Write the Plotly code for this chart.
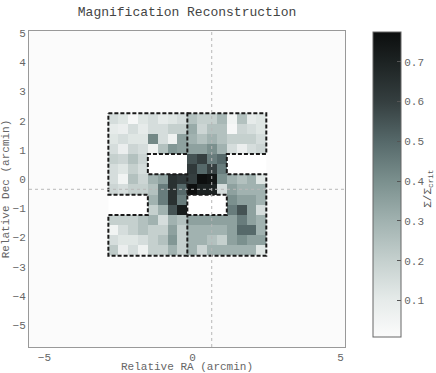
import numpy as np
import plotly.graph_objects as go

# surface density map, 14 rows (top -> bottom) x 16 cols (left -> right); None = no data
nan = None
sigma = [
    [0.15, 0.12, 0.03, 0.12, 0.15, 0.10, 0.12, 0.15, 0.25, 0.20, 0.20, 0.28, 0.05, 0.25, 0.10, 0.12],
    [0.10, 0.08, 0.15, 0.10, 0.15, 0.15, 0.20, 0.20, 0.32, 0.18, 0.25, 0.25, 0.03, 0.18, 0.15, 0.12],
    [0.12, 0.15, 0.12, 0.12, 0.42, 0.15, 0.06, 0.35, 0.30, 0.25, 0.30, 0.25, 0.20, 0.20, 0.20, 0.15],
    [0.15, 0.08, 0.18, 0.15, 0.06, 0.25, 0.38, 0.35, 0.35, 0.35, 0.40, 0.30, 0.15, 0.08, 0.15, 0.18],
    [0.20, 0.18, 0.25, 0.18, nan, nan, nan, nan, 0.55, 0.60, 0.45, 0.50, nan, nan, nan, nan],
    [0.15, 0.12, 0.20, 0.15, nan, nan, nan, nan, 0.62, 0.50, 0.60, 0.45, nan, nan, nan, nan],
    [0.15, 0.05, 0.25, 0.18, 0.30, 0.35, 0.65, 0.62, 0.60, 0.77, 0.75, 0.40, 0.30, 0.25, 0.30, 0.12],
    [0.18, 0.15, 0.20, 0.20, 0.25, 0.45, 0.65, 0.50, 0.77, 0.70, 0.70, 0.15, 0.35, 0.30, 0.30, 0.30],
    [nan, nan, nan, nan, 0.30, 0.45, 0.65, 0.45, nan, nan, nan, nan, 0.40, 0.35, 0.35, 0.30],
    [nan, nan, nan, nan, 0.20, 0.30, 0.55, 0.72, nan, nan, nan, nan, 0.45, 0.55, 0.35, 0.15],
    [0.20, 0.20, 0.20, 0.25, 0.30, 0.15, 0.30, 0.25, 0.35, 0.35, 0.35, 0.35, 0.35, 0.45, 0.35, 0.30],
    [0.05, 0.15, 0.20, 0.25, 0.20, 0.20, 0.35, 0.20, 0.30, 0.30, 0.30, 0.30, 0.35, 0.50, 0.50, 0.30],
    [0.15, 0.12, 0.12, 0.15, 0.20, 0.25, 0.38, 0.20, 0.30, 0.30, 0.25, 0.20, 0.35, 0.40, 0.35, 0.35],
    [0.22, 0.08, 0.15, 0.06, 0.20, 0.20, 0.30, 0.20, 0.30, 0.18, 0.30, 0.30, 0.30, 0.30, 0.30, 0.12],
]

# grid geometry (arcmin)
ra_left, ra_step = -2.84, 0.3333
dec_top, dec_step = 2.25, 0.348
center_ra, center_dec = 0.65, -0.35

ncol, nrow = len(sigma[0]), len(sigma)
ra_edges = [ra_left + i * ra_step for i in range(ncol + 1)]
dec_edges = [dec_top - j * dec_step for j in range(nrow + 1)]

z = np.array([[np.nan if v is None else v for v in row] for row in sigma])
holes = np.where(np.isnan(z), 1.0, np.nan)

grey = [
    [0.0, '#fbfbfb'], [0.12, '#e6ebea'], [0.25, '#c5d0ce'], [0.38, '#a1b2b0'],
    [0.51, '#7b908e'], [0.64, '#56696a'], [0.77, '#353f40'], [0.9, '#1d2323'],
    [1.0, '#0c0e0e'],
]
font = 'Liberation Mono, Courier New, monospace'

fig = go.Figure()
fig.add_trace(go.Heatmap(
    x=ra_edges, y=dec_edges, z=holes,
    colorscale=[[0, 'white'], [1, 'white']], showscale=False, hoverinfo='skip'
))
fig.add_trace(go.Heatmap(
    x=ra_edges, y=dec_edges, z=z,
    colorscale=grey, zmin=0.008, zmax=0.775,
    colorbar=dict(
        x=1.057, xanchor='left', y=0, yanchor='bottom',
        len=1.028, lenmode='fraction', thickness=28,
        outlinewidth=1, outlinecolor='#666',
        tick0=0.1, dtick=0.1, ticks='inside', ticklen=4, tickcolor='#555',
        tickfont=dict(family=font, size=11, color='#666'),
    ),
))

# dashed outline of the two halves of the mosaic; the shared edges are drawn once
left_path = [(0, 0), (8, 0), (8, 4), (4, 4), (4, 6), (8, 6), (8, 14), (0, 14),
             (0, 10), (4, 10), (4, 8), (0, 8), (0, 0)]
right_path = [(8, 0), (16, 0), (16, 4), (12, 4), (12, 6), (16, 6), (16, 14), (8, 14),
              None, (8, 10), (12, 10), (12, 8), (8, 8)]

for path in (left_path, right_path):
    xs = [None if p is None else ra_edges[p[0]] for p in path]
    ys = [None if p is None else dec_edges[p[1]] for p in path]
    fig.add_trace(go.Scatter(
        x=xs, y=ys, mode='lines', hoverinfo='skip', showlegend=False,
        line=dict(color='#1a1a1a', width=2, dash='4px,2px')
    ))

fig.add_vline(x=center_ra, line=dict(color='#b8b8b8', width=1, dash='dot'), layer='above')
fig.add_hline(y=center_dec, line=dict(color='#b8b8b8', width=1, dash='dot'), layer='above')

# colorbar label
fig.add_annotation(
    text='Σ/Σ<sub>crit</sub>', textangle=-90, showarrow=False,
    xref='paper', yref='paper', x=1.262, y=0.5, xanchor='center', yanchor='middle',
    font=dict(family=font, size=11, color='#555')
)

fig.update_layout(
    width=436, height=373,
    margin=dict(l=29, r=91, t=31, b=26, autoexpand=False),
    paper_bgcolor='white', plot_bgcolor='#fbfbfb',
    font=dict(family=font, size=11, color='#666'),
    title=dict(text='Magnification Reconstruction', x=0.429, xanchor='center',
               y=0.97, yanchor='middle',
               font=dict(family=font, size=13, color='#444')),
    showlegend=False,
)
fig.update_xaxes(
    range=[-5.52, 5.15], tickvals=[-5, 0, 5], ticktext=['−5', '0', '5'],
    showgrid=False, zeroline=False, showline=True, mirror=True,
    linecolor='#999', linewidth=1, ticks='', automargin=False,
    title=dict(text='Relative RA (arcmin)', standoff=0,
               font=dict(family=font, size=11, color='#666')),
)
fig.update_yaxes(
    range=[-5.75, 5.07], dtick=1, tick0=0,
    showgrid=False, zeroline=False, showline=True, mirror=True,
    linecolor='#999', linewidth=1, ticks='', automargin=False,
    title=dict(text='Relative Dec (arcmin)', standoff=3,
               font=dict(family=font, size=11, color='#666')),
)

# page body has an 8px default margin; drop it so the figure fills the window
fig.write_html('out.html', config={'displayModeBar': False},
               post_script="document.body.style.margin='0px';")
